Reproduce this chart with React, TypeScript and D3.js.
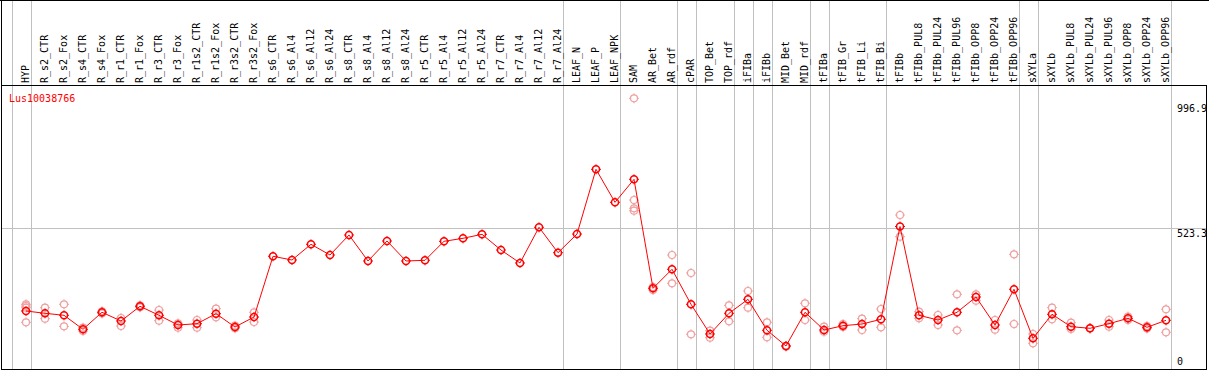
import React from "react";
import * as d3 from "d3";

const geneName = "Lus10038766";

const categories = [
  "HYP", "R_s2_CTR", "R_s2_Fox", "R_s4_CTR", "R_s4_Fox", "R_r1_CTR", "R_r1_Fox",
  "R_r3_CTR", "R_r3_Fox", "R_r1s2_CTR", "R_r1s2_Fox", "R_r3s2_CTR", "R_r3s2_Fox",
  "R_s6_CTR", "R_s6_Al4", "R_s6_Al12", "R_s6_Al24", "R_s8_CTR", "R_s8_Al4",
  "R_s8_Al12", "R_s8_Al24", "R_r5_CTR", "R_r5_Al4", "R_r5_Al12", "R_r5_Al24",
  "R_r7_CTR", "R_r7_Al4", "R_r7_Al12", "R_r7_Al24", "LEAF_N", "LEAF_P", "LEAF_NPK",
  "SAM", "AR_Bet", "AR_rdf", "cPAR", "TOP_Bet", "TOP_rdf", "iFIBa", "iFIBb",
  "MID_Bet", "MID_rdf", "tFIBa", "tFIB_Gr", "tFIB_Li", "tFIB_Bi", "tFIBb",
  "tFIBb_PUL8", "tFIBb_PUL24", "tFIBb_PUL96", "tFIBb_OPP8", "tFIBb_OPP24",
  "tFIBb_OPP96", "sXYLa", "sXYLb", "sXYLb_PUL8", "sXYLb_PUL24", "sXYLb_PUL96",
  "sXYLb_OPP8", "sXYLb_OPP24", "sXYLb_OPP96",
];

// first category of each group (vertical separators)
const groupStarts = [
  "HYP", "R_s2_CTR", "LEAF_N", "SAM", "cPAR", "TOP_Bet", "iFIBa", "iFIBb",
  "MID_Bet", "tFIBa", "tFIB_Gr", "tFIBb", "sXYLa", "sXYLb",
];

const meanValues = [
  221.9, 213.5, 206.2, 155.2, 217.2, 185.5, 239.0, 206.2, 170.9, 175.6, 212.1, 163.6, 200.0,
  421.2, 407.7, 464.9, 425.9, 498.8, 404.1, 476.9, 404.1, 406.6, 475.8, 486.8, 501.3,
  444.1, 396.8, 526.9, 434.3, 502.4, 738.2, 617.9,
  701.7, 304.6, 373.8, 246.3, 138.1, 213.5, 264.5, 151.6, 94.4, 217.2, 152.7, 168.3,
  174.5, 191.6, 529.8, 206.2, 189.1, 217.2, 272.9, 170.9, 301.0, 122.4, 209.9, 164.7,
  158.9, 175.6, 195.3, 162.5, 188.0,
];

const replicateValues: number[][] = [
  [246.3, 240.1, 233.9, 180.7], [233.9, 193.8], [246.3, 166.1], [161.0, 149.0],
  [221.0, 213.0], [196.4, 167.2], [242.6, 235.4], [225.5, 186.5], [177.1, 161.0],
  [189.1, 161.0], [230.3, 198.9], [168.3, 158.9], [217.2, 181.8],
  [], [], [], [], [], [], [], [], [], [], [], [], [], [], [], [], [], [], [],
  [996.9, 626.3, 596.1, 587.3], [298.4, 309.3], [425.9, 322.8], [360.3, 137.0],
  [150.1, 124.6], [242.6, 184.4], [294.8, 233.9], [180.7, 126.1], [91.8, 94.4],
  [250.0, 189.1], [164.7, 146.5], [174.5, 163.6], [193.8, 152.7], [229.2, 162.5],
  [571.7, 492.6], [219.3, 195.3], [207.3, 170.9], [282.7, 151.6], [282.7, 259.4],
  [189.1, 153.8], [428.5, 174.5], [138.1, 104.2], [233.9, 191.6], [179.3, 156.3],
  [158.9, 158.9], [189.1, 164.7], [201.8, 189.1], [167.2, 157.8], [228.1, 144.3],
];

const yTickValues = [0, 523.3, 996.9];
const yTickLabels = ["0", "523.3", "996.9"];

const W = 1209;
const H = 370;
const FONT = "'DejaVu Sans Mono', 'Liberation Mono', monospace";
const GRID = "#c0c0c0";
const RED = "#ff0000";
const PINK = "#f0a0a0";

const headerBottom = 85;
const plotBottom = 369;
const rightBorder = 1206;
const axisSep = 1171;

function Marker({ cx, cy, color, sw }: { cx: number; cy: number; color: string; sw: number }) {
  const r = 3.5;
  const t = 1.5;
  return (
    <g stroke={color} strokeWidth={sw} fill="none">
      <circle cx={cx} cy={cy} r={r} />
      <line x1={cx} y1={cy - r - t} x2={cx} y2={cy - r + 0.5} strokeWidth={1} />
      <line x1={cx} y1={cy + r - 0.5} x2={cx} y2={cy + r + t} strokeWidth={1} />
      <line x1={cx - r - t} y1={cy} x2={cx - r + 0.5} y2={cy} strokeWidth={1} />
      <line x1={cx + r - 0.5} y1={cy} x2={cx + r + t} y2={cy} strokeWidth={1} />
    </g>
  );
}

export default function App() {
  const x = d3.scalePoint<string>().domain(categories).range([26, 1166]);
  const step = x.step();
  const y = d3.scaleLinear().domain([0, 996.9]).range([371.9, 98.3]);

  const lineGen = d3
    .line<number>()
    .x((_, i) => x(categories[i]) as number)
    .y((d) => y(d));

  const sepXs = groupStarts.map((c) => (x(c) as number) - step + 4.5);
  sepXs.push((x(categories[categories.length - 1]) as number) + 4.5);

  return (
    <svg
      width={W}
      height={H}
      style={{ position: "absolute", left: 0, top: 0, background: "#fff" }}
      shapeRendering="crispEdges"
    >
      <rect x={0} y={0} width={W} height={H} fill="#fff" />
      {/* vertical group separators */}
      {sepXs.map((sx, i) => (
        <line key={"s" + i} x1={Math.round(sx) + 0.5} x2={Math.round(sx) + 0.5} y1={0} y2={plotBottom} stroke={GRID} />
      ))}
      {/* horizontal gridline */}
      <line x1={1} x2={rightBorder} y1={Math.round(y(523.3)) + 0.5} y2={Math.round(y(523.3)) + 0.5} stroke={GRID} />

      {/* header labels */}
      {categories.map((c) => {
        const cx = (x(c) as number) + 3;
        return (
          <text
            key={c}
            transform={`translate(${cx},83) rotate(-90)`}
            fontFamily={FONT}
            fontSize={10}
            fill="#000"
          >
            {c}
          </text>
        );
      })}

      {/* borders */}
      <line x1={0} x2={W} y1={0.5} y2={0.5} stroke="#000" />
      <line x1={1} x2={rightBorder} y1={headerBottom + 0.5} y2={headerBottom + 0.5} stroke="#000" />
      <line x1={1} x2={rightBorder + 1} y1={plotBottom + 0.5} y2={plotBottom + 0.5} stroke="#000" />
      <line x1={1.5} x2={1.5} y1={0} y2={H} stroke="#000" />
      <line x1={rightBorder + 0.5} x2={rightBorder + 0.5} y1={headerBottom} y2={H} stroke="#000" />

      {/* gene label */}
      <text x={9} y={102} fontFamily={FONT} fontSize={10} fill={RED}>
        {geneName}
      </text>

      {/* y labels */}
      {yTickValues.map((v, i) => {
        const py = Math.min(Math.max(y(v) + 8.5, 112), 365);
        return (
          <text key={"t" + i} x={1177} y={py} fontFamily={FONT} fontSize={10} fill="#000">
            {yTickLabels[i]}
          </text>
        );
      })}

      <g shapeRendering="auto">
        {/* replicates */}
        {replicateValues.map((reps, i) =>
          reps.map((v, j) => (
            <Marker key={`r${i}-${j}`} cx={x(categories[i]) as number} cy={y(v)} color={PINK} sw={1.2} />
          ))
        )}
        {/* mean line */}
        <path d={lineGen(meanValues) || ""} fill="none" stroke={RED} strokeWidth={1} />
        {meanValues.map((v, i) => (
          <Marker key={"m" + i} cx={x(categories[i]) as number} cy={y(v)} color={RED} sw={1.5} />
        ))}
      </g>
    </svg>
  );
}
